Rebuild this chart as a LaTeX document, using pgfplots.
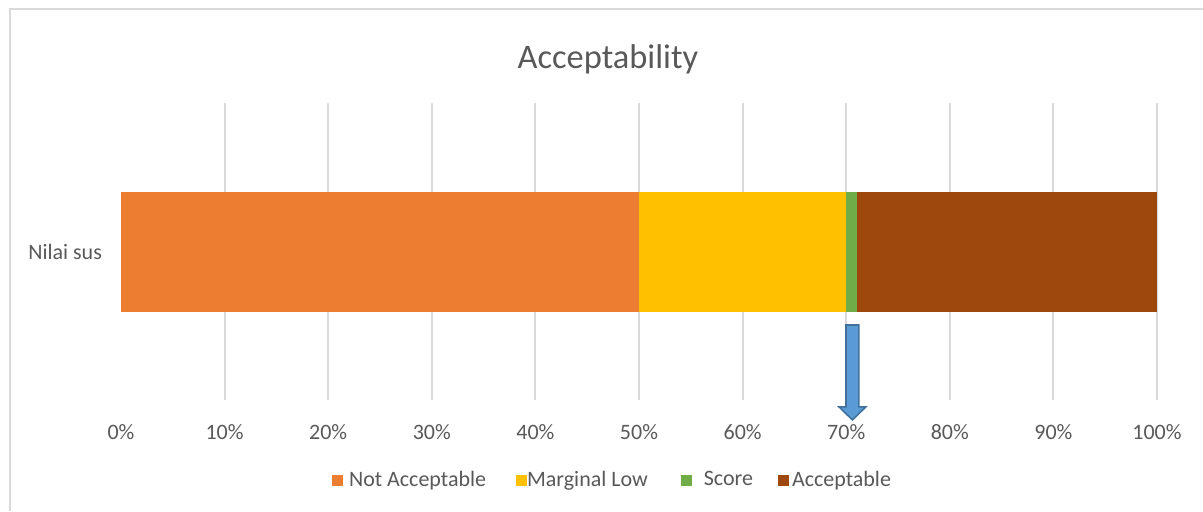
\documentclass[border=0pt]{standalone}
\usepackage{fontspec}
\setmainfont{Carlito}
\usepackage{pgfplots}
\pgfplotsset{compat=1.18}
\definecolor{cNot}{HTML}{ED7D31}
\definecolor{cMarg}{HTML}{FFC000}
\definecolor{cScore}{HTML}{70AD47}
\definecolor{cAcc}{HTML}{9E480E}
\definecolor{txt}{HTML}{595959}
\definecolor{gridc}{HTML}{D9D9D9}
\definecolor{arrowfill}{HTML}{5B9BD5}
\definecolor{arrowedge}{HTML}{41719C}
\begin{document}
\begin{tikzpicture}[x=1pt,y=1pt]
\useasboundingbox (0,0) rectangle (601.5,255.5);
\draw[gridc, line width=1pt] (5,0) -- (5,251) -- (601.5,251);
\begin{axis}[
  at={(60.5pt,55.5pt)}, anchor=south west,
  scale only axis, width=518pt, height=148.5pt,
  xbar stacked, bar width=60pt,
  xmin=0, xmax=100, ymin=-0.5, ymax=0.5,
  clip=false,
  axis line style={draw=none},
  tick style={draw=none},
  xmajorgrids, major grid style={gridc, line width=1pt},
  xtick={10,20,...,100},
  extra x ticks={0}, extra x tick style={grid=none},
  xticklabel={\pgfmathprintnumber{\tick}\%},
  ytick={0}, yticklabels={Nilai sus},
  /pgf/number format/assume math mode=true,
  ticklabel style={font=\fontsize{11}{13}\selectfont, text=txt},
  xticklabel style={yshift=-8.5pt},
  yticklabel style={xshift=-6pt},
  title={Acceptability},
  title style={font=\fontsize{17.2}{20}\selectfont, text=txt, at={(rel axis cs:0.470,1.1077)}, anchor=center},
  legend style={at={(rel axis cs:0.2037,-0.2694)}, anchor=west, draw=none, inner sep=0pt, outer sep=0pt,
    nodes={inner sep=0pt, outer sep=0pt},
    font=\fontsize{11}{13}\selectfont, text=txt, legend columns=4},
  legend image code/.code={\fill[#1] (0pt,-2.75pt) rectangle (5.5pt,2.75pt);},
]
\addplot[fill=cNot, draw=none] coordinates {(50,0)};
\addlegendentry{\rule{3pt}{0pt}Not Acceptable\rule{15pt}{0pt}}
\addplot[fill=cMarg, draw=none] coordinates {(20,0)};
\addlegendentry{Marginal Low\rule{16.5pt}{0pt}}
\addplot[fill=cScore, draw=none] coordinates {(1,0)};
\addlegendentry{\rule{6pt}{0pt}Score\rule{12.5pt}{0pt}}
\addplot[fill=cAcc, draw=none] coordinates {(29,0)};
\addlegendentry{\rule{1.5pt}{0pt}Acceptable}
\draw[fill=arrowfill, draw=arrowedge, line width=0.8pt, line join=miter]
  ([xshift=-3.2pt]axis cs:70.6,-0.2475) -- ([xshift=3.2pt]axis cs:70.6,-0.2475)
  -- ([xshift=3.2pt,yshift=6.5pt]axis cs:70.6,-0.567) -- ([xshift=6.7pt,yshift=6.5pt]axis cs:70.6,-0.567)
  -- (axis cs:70.6,-0.567)
  -- ([xshift=-6.7pt,yshift=6.5pt]axis cs:70.6,-0.567) -- ([xshift=-3.2pt,yshift=6.5pt]axis cs:70.6,-0.567) -- cycle;
\end{axis}
\end{tikzpicture}
\end{document}
